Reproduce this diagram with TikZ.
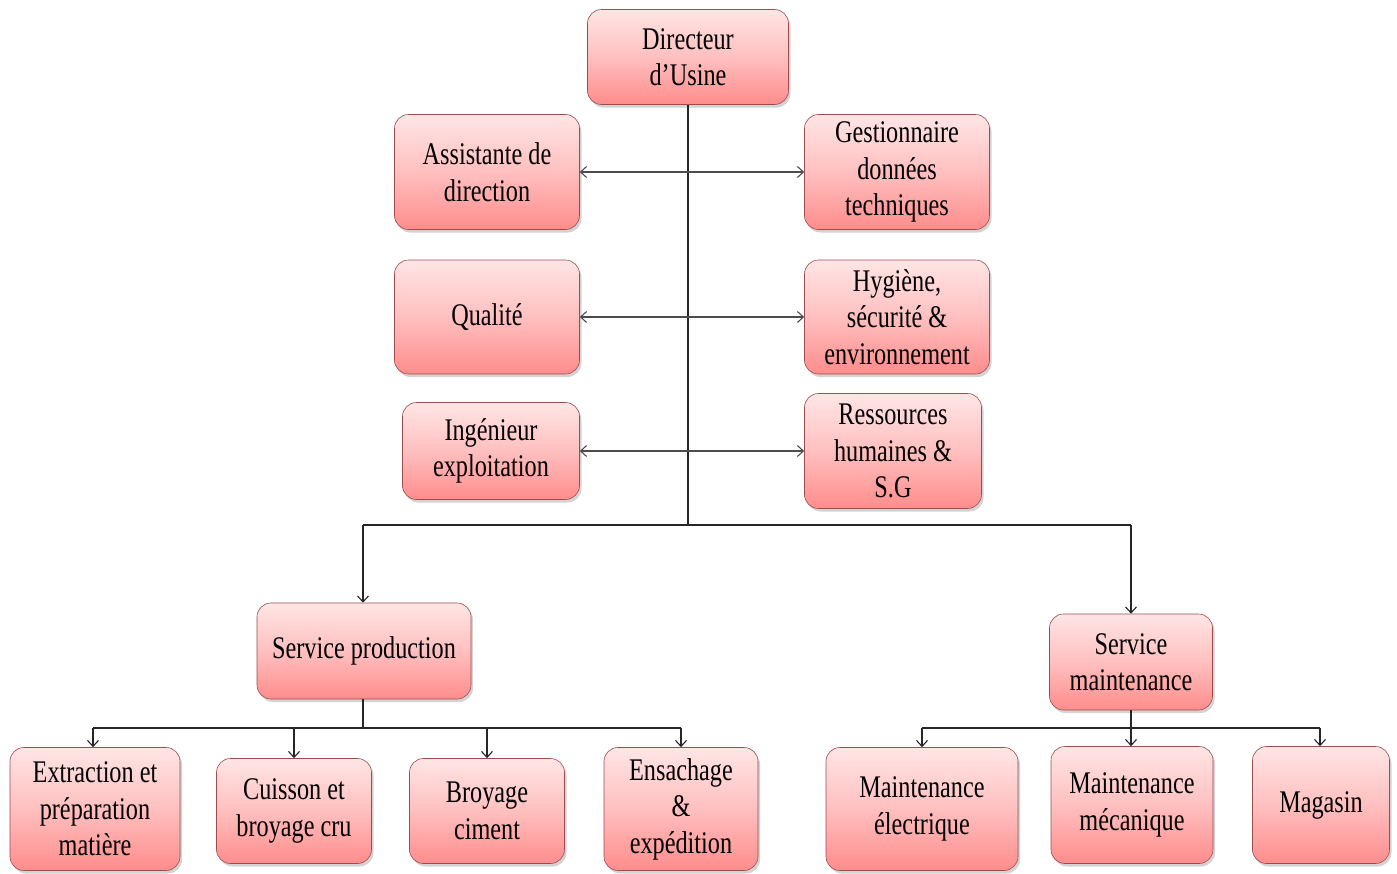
\documentclass[tikz,border=0pt]{standalone}
\usepackage{fontspec}
\setmainfont{Liberation Serif}[FakeStretch=0.77]
\usetikzlibrary{arrows.meta,shadows}
\begin{document}
\begin{tikzpicture}[x=1pt,y=-1pt,
  box/.style={draw=red!45!black!70, line width=0.6pt, rounded corners=14pt,
    top color=red!10, bottom color=red!45!white, middle color=red!25,
    drop shadow={opacity=0.35, shadow xshift=2pt, shadow yshift=-3pt},
    align=center, inner sep=2pt,
    font=\fontsize{31.5}{36.5}\selectfont},
  conn/.style={line width=1.1pt, draw=black!85},
  tip/.style={-{Straight Barb[length=6pt,width=11pt]}},
  dtip/.style={{Straight Barb[length=6pt,width=11pt]}-{Straight Barb[length=6pt,width=11pt]}}
]
\useasboundingbox (0,0) rectangle (1397,873);
% top level
\node[box, minimum width=201pt, minimum height=95pt] (dir) at (688,57) {Directeur\\d'Usine};
\node[box, minimum width=185pt, minimum height=115pt] (ass) at (487,172) {Assistante de\\direction};
\node[box, minimum width=185pt, minimum height=115pt] (ges) at (897,172) {Gestionnaire\\données\\techniques};
\node[box, minimum width=185pt, minimum height=114pt] (qua) at (487,317) {Qualité};
\node[box, minimum width=185pt, minimum height=114pt] (hyg) at (897,317) {Hygiène,\\sécurité \&\\environnement};
\node[box, minimum width=177pt, minimum height=97pt] (ing) at (491,451) {Ingénieur\\exploitation};
\node[box, minimum width=177pt, minimum height=115pt] (rh) at (893,451) {Ressources\\humaines \&\\S.G};
% services
\node[box, minimum width=214pt, minimum height=96pt] (sp) at (364,651) {Service production};
\node[box, minimum width=163pt, minimum height=96pt] (sm) at (1131,662) {Service\\maintenance};
% production children
\node[box, minimum width=170pt, minimum height=123pt] (ext) at (95,809) {Extraction et\\préparation\\matière};
\node[box, minimum width=155pt, minimum height=105pt] (cui) at (294,811) {Cuisson et\\broyage cru};
\node[box, minimum width=155pt, minimum height=105pt] (bro) at (487,811) {Broyage\\ciment};
\node[box, minimum width=154pt, minimum height=123pt] (ens) at (681,809) {Ensachage\\\&\\expédition};
% maintenance children
\node[box, minimum width=192pt, minimum height=123pt] (mel) at (922,809) {Maintenance\\électrique};
\node[box, minimum width=162pt, minimum height=117pt] (mme) at (1132,805) {Maintenance\\mécanique};
\node[box, minimum width=137pt, minimum height=117pt] (mag) at (1321,805) {Magasin};

% coordinates
\coordinate (trunk) at (688,525);
\coordinate (jl) at (363,525);
\coordinate (jr) at (1131,525);
\coordinate (pbar) at (363,728);
\coordinate (pl) at (93,728);
\coordinate (pr) at (681,728);
\coordinate (mbar) at (1131,728);
\coordinate (ml) at (922,728);
\coordinate (mr) at (1320,728);

% main trunk
\draw[conn] (dir.south) -- (trunk);
\draw[conn] (jl) -- (jr);
\draw[conn, tip] (jl) -- (sp.north -| jl);
\draw[conn, tip] (jr) -- (sm.north -| jr);
% staff arrows
\draw[conn, dtip, draw=black!70] (ass.east) -- (ges.west);
\draw[conn, dtip, draw=black!70] (qua.east) -- (hyg.west);
\draw[conn, dtip, draw=black!70] (ing.east) -- (ing.east -| rh.west);
% production
\draw[conn] (sp.south -| pbar) -- (pbar);
\draw[conn] (pl) -- (pr);
\draw[conn, tip] (pl) -- (ext.north -| pl);
\draw[conn, tip] (cui.north |- pbar) -- (cui.north);
\draw[conn, tip] (bro.north |- pbar) -- (bro.north);
\draw[conn, tip] (pr) -- (ens.north -| pr);
% maintenance
\draw[conn] (sm.south) -- (mbar);
\draw[conn] (ml) -- (mr);
\draw[conn, tip] (ml) -- (mel.north -| ml);
\draw[conn, tip] (mbar) -- (mme.north -| mbar);
\draw[conn, tip] (mr) -- (mag.north -| mr);
\end{tikzpicture}
\end{document}
